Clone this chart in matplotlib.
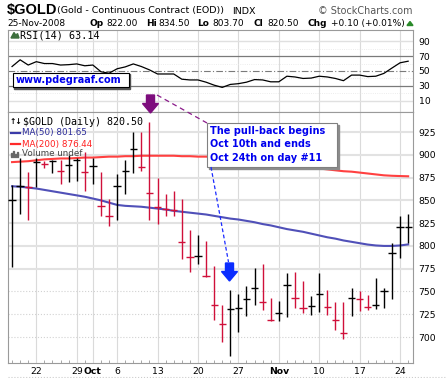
import matplotlib.pyplot as plt
from matplotlib.patches import Polygon, Rectangle
from matplotlib.lines import Line2D
import numpy as np
import pandas as pd

# daily gold bars, 17-Sep-2008 .. 25-Nov-2008
dates = pd.bdate_range('2008-09-17', '2008-11-25')
highs = [866.5, 897, 881, 897, 893, 894, 894, 899.5, 896, 903, 896.5, 881, 852, 878.5, 894,
         925, 925, 936, 874.5, 857.5, 860, 852, 817, 812, 805, 778, 735.5, 751.5, 747.5, 756.5,
         776, 780, 743, 740, 770, 771, 762, 745, 770, 751.5, 739, 739, 754, 750.5, 746.5,
         765, 754, 803.5, 833, 834.5]
lows = [776.5, 835.5, 828.5, 865, 885, 879.5, 868.5, 870.5, 871, 860, 868.5, 832.5, 821.5, 828.5, 857.5,
        879.5, 882, 828.5, 824, 832.5, 832.5, 785.5, 771, 780, 765.5, 719, 695, 679.5, 706, 723.5,
        735.5, 730, 717.5, 717.5, 722, 732, 726.5, 724.5, 727, 724.5, 708, 698, 723.5, 729, 730,
        731, 732, 742, 787, 803.7]
closes = [850.5, 865.5, 864.8, 892, 890.3, 893, 882.3, 888.5, 894, 881.2, 887.8, 844, 833, 865.5, 882.3,
          906.4, 886.3, 858.6, 842.2, 840, 838.9, 804.6, 787.4, 789.2, 767.5, 735, 714.3, 730.9, 731.6, 741.2,
          754, 738.6, 719.1, 726.5, 757, 742.6, 732, 733.8, 747.4, 733.1, 719.1, 704.4, 742.6, 741.9, 733.1,
          735.7, 750.4, 792.6, 820.4, 820.5]
ma50 = [865.5, 865, 864, 863, 861.5, 860, 858.5, 857, 855.5, 854, 852, 850, 847.5, 845, 844,
        843.5, 843, 842, 841, 840, 838.5, 837.5, 836.5, 835.5, 834.5, 833, 831.5, 830, 829, 827.5,
        826, 824, 822.5, 820.5, 818.5, 817, 815.5, 813.5, 811.5, 809.5, 808, 806, 804.5, 803, 801.5,
        800.5, 800, 800, 800.5, 801.65]
ma200 = [892, 892.5, 893, 894, 895, 895.5, 896, 896, 896.5, 897, 897, 897.5, 898, 898, 898.5,
         898.5, 899, 899, 899, 899, 899, 898.5, 898.5, 898, 898, 897.5, 897, 896, 895, 894,
         893, 892, 891, 890, 889, 888, 887, 886, 885, 884, 883, 882, 881.5, 880.5, 879.5,
         878.5, 877.5, 877, 876.7, 876.44]
rsi = [56, 65, 58, 62.5, 60, 60, 58, 58.5, 59.5, 57, 58, 49, 47, 53, 55.5,
       59.5, 56, 51.5, 46, 46, 46, 39, 38, 38, 35, 31, 28, 32, 33, 35,
       38.5, 38, 35.5, 35.5, 43, 42, 40, 40.5, 43, 42, 40, 37, 44.5, 44.5, 42.5,
       43, 46.8, 54, 61, 63.14]

price_ticks = [700, 725, 750, 775, 800, 825, 850, 875, 900, 925]
rsi_ticks = [10, 30, 50, 70, 90]

W, H = 447, 378


def fx(px):
    return px / W


def fy(py):
    return 1 - py / H


x = np.arange(len(closes))
cols = ['#000000'] + ['#000000' if closes[i] >= closes[i - 1] else '#d0103a' for i in range(1, len(closes))]

# ticks on mondays and first day of each month
tick_pos, tick_lab = [], []
for i in range(1, len(dates)):
    d, p = dates[i], dates[i - 1]
    if d.month != p.month:
        tick_pos.append(i)
        tick_lab.append(d.strftime('%b'))
    elif d.weekday() == 0:
        tick_pos.append(i)
        tick_lab.append(str(d.day))

fig = plt.figure(figsize=(W / 100, H / 100), dpi=100)
ax_r = fig.add_axes([fx(8), fy(112), (413 - 8) / W, (112 - 30) / H])
ax = fig.add_axes([fx(8), fy(363), (413 - 8) / W, (363 - 112) / H])

for a in (ax_r, ax):
    a.set_xlim(-0.5, 49.6)
    for s in a.spines.values():
        s.set_color('#9a9a9a')
        s.set_linewidth(0.8)
    for p in tick_pos:
        a.axvline(p, color='#dadada', lw=0.8, zorder=0)
    a.yaxis.tick_right()
    a.tick_params(axis='y', length=0, pad=4, labelsize=6.7)

# RSI panel
ax_r.set_ylim(-5, 105)
ax_r.set_yticks(rsi_ticks)
ax_r.set_xticks([])
for v in [10, 90]:
    ax_r.axhline(v, color='#e0e0e0', lw=1.0, zorder=0)
for v in [20, 40, 60, 80]:
    ax_r.axhline(v, color='#e6e6e6', lw=0.6, ls=':', zorder=0)
ax_r.axhline(70, color='#7a7a7a', lw=0.9, zorder=1)
ax_r.axhline(30, color='#7a7a7a', lw=0.9, zorder=1)
ax_r.axhline(50, color='#7a7a7a', lw=0.8, ls='-.', dashes=(6, 2, 1, 2), zorder=1)
ax_r.plot(x, rsi, color='black', lw=0.9, zorder=2)

# price panel
ax.set_ylim(671.5, 947)
ax.set_yticks(price_ticks)
for v in price_ticks:
    if v >= 775:
        ax.axhline(v, color='#e2e2e2', lw=1.5, zorder=0)
    else:
        ax.axhline(v, color='#d2d2d2', lw=0.8, ls=':', zorder=0)
ax.plot(x, ma200, color='#ff4040', lw=1.5, zorder=2)
ax.plot(x, ma50, color='#5050b8', lw=1.5, zorder=2)
ax.vlines(x, lows, highs, colors=cols, lw=1.0, zorder=3)
ax.hlines(closes, x - 0.45, x + 0.45, colors=cols, lw=1.0, zorder=3)

ax.set_xticks(tick_pos)
ax.set_xticklabels(tick_lab)
for t in ax.get_xticklabels():
    if not t.get_text().isdigit():
        t.set_fontweight('bold')
ax.tick_params(axis='x', length=0, pad=3, labelsize=6.7)
ax.set_xticks(x, minor=True)
ax.tick_params(axis='x', which='minor', length=2, direction='in', color='#999999')

# header
fig.text(fx(7), fy(14), '$GOLD', fontsize=10.5, fontweight='bold', family='Liberation Sans', va='baseline')
fig.text(fx(57), fy(13.5), '(Gold - Continuous Contract (EOD))', fontsize=6.8, va='baseline')
fig.text(fx(232), fy(13.5), 'INDX', fontsize=6.8, va='baseline')
fig.text(fx(413), fy(13.5), '\u00a9 StockCharts.com', fontsize=6.9, ha='right', va='baseline', color='#555555')

row = [('25-Nov-2008', 7, 'normal'), ('Op', 89, 'bold'), ('822.00', 106, 'normal'),
       ('Hi', 146, 'bold'), ('834.50', 158, 'normal'), ('Lo', 197, 'bold'), ('803.70', 212, 'normal'),
       ('Cl', 253, 'bold'), ('820.50', 267, 'normal'), ('Chg', 307, 'bold'),
       ('+0.10 (+0.01%)', 331, 'normal')]
for s, px, w in row:
    fig.text(fx(px), fy(26), s, fontsize=6.5, fontweight=w, va='baseline')
fig.add_artist(Polygon([(fx(407), fy(25.5)), (fx(413), fy(25.5)), (fx(410), fy(21.5))],
                       closed=True, color='#2a8a2a', transform=fig.transFigure))

# RSI label
fig.add_artist(Polygon([(fx(11), fy(38)), (fx(14), fy(32.5)), (fx(16), fy(35.5)), (fx(17.5), fy(33.5)),
                        (fx(19), fy(38))], closed=True, color='#3c6e3c', transform=fig.transFigure))
fig.text(fx(20), fy(35.5), 'RSI(14) 63.14', family='DejaVu Sans Mono', fontsize=7.3, va='center')

# price legend
fig.text(fx(10), fy(122), '\u2191\u2193', fontsize=5.5, va='center', fontweight='bold')
fig.text(fx(23), fy(122), '$GOLD (Daily) 820.50', family='DejaVu Sans Mono', fontsize=7.2, va='center')
fig.add_artist(Line2D([fx(11), fx(20)], [fy(133), fy(133)], color='#3a3aa8', lw=1.6, transform=fig.transFigure))
fig.text(fx(21.5), fy(133), 'MA(50) 801.65', fontsize=6.3, va='center', color='#2b2b9a')
fig.add_artist(Line2D([fx(11), fx(20)], [fy(144), fy(144)], color='#ff2a2a', lw=1.6, transform=fig.transFigure))
fig.text(fx(21.5), fy(144), 'MA(200) 876.44', fontsize=6.3, va='center', color='#ff2020')
for bx, bh in [(11, 4), (13, 6), (15, 3), (17, 5)]:
    fig.add_artist(Rectangle((fx(bx), fy(157)), 1.4 / W, bh / H, color='#666666', transform=fig.transFigure))
fig.text(fx(21.5), fy(154), 'Volume undef', fontsize=6.3, va='center', color='#444444')

# www box
fig.add_artist(Rectangle((fx(14), fy(89)), 116.3 / W, 14.6 / H, color='#555555', transform=fig.transFigure))
fig.add_artist(Rectangle((fx(12.7), fy(87.3)), 116.3 / W, 14.6 / H, facecolor='white', edgecolor='black',
                         lw=0.8, transform=fig.transFigure))
fig.text(fx(16), fy(80.3), 'www.pdegraaf.com', fontsize=7, fontweight='bold', color='#0000ee', va='center')

# pull-back note
fig.add_artist(Line2D([fx(157), fx(207)], [fy(95), fy(123)], color='#8a1a8a', lw=0.9, ls=(0, (4, 3)),
                      transform=fig.transFigure))
fig.add_artist(Rectangle((fx(209), fy(169)), 130 / W, 44 / H, color='#8c8c8c', transform=fig.transFigure))
fig.add_artist(Rectangle((fx(207), fy(167)), 130 / W, 44 / H, facecolor='white', edgecolor='#808080',
                         lw=0.8, transform=fig.transFigure))
for txt, py in [('The pull-back begins', 131), ('Oct 10th and ends', 144.3), ('Oct 24th on day #11', 157.5)]:
    fig.text(fx(210.5), fy(py), txt, fontsize=7, fontweight='bold', color='#0000ee', va='center')
fig.add_artist(Line2D([fx(211), fx(228.5)], [fy(167), fy(262)], color='#1a2aff', lw=0.9, ls=(0, (3, 2)),
                      transform=fig.transFigure))

# arrows over the Oct 10 and Oct 24 bars
purple = [(146.5, 95), (154.5, 95), (154.5, 103.5), (158.5, 103.5), (150.5, 113), (142.5, 103.5), (146.5, 103.5)]
blue = [(225.5, 263), (233.5, 263), (233.5, 271.5), (237.5, 271.5), (229.5, 281), (221.5, 271.5), (225.5, 271.5)]
fig.add_artist(Polygon([(fx(a), fy(b)) for a, b in purple], closed=True, color='#7d0d7d', transform=fig.transFigure))
fig.add_artist(Polygon([(fx(a), fy(b)) for a, b in blue], closed=True, color='#0a2cff', transform=fig.transFigure))

fig.add_artist(Line2D([fx(8), fx(447)], [fy(377), fy(377)], color='#cccccc', lw=0.8, ls=':', transform=fig.transFigure))

fig.savefig('out.png', dpi=100)
